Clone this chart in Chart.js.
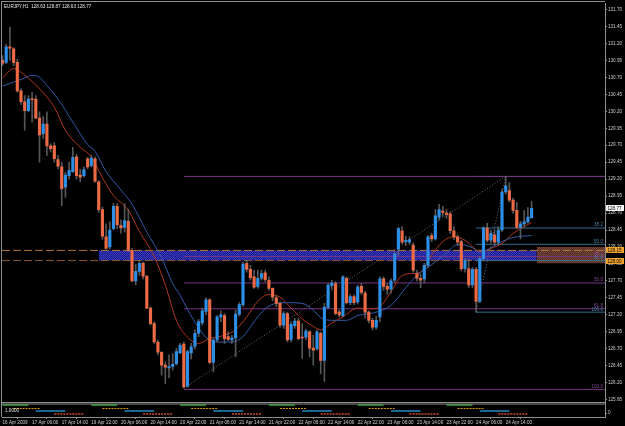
<!DOCTYPE html>
<html>
<head>
<meta charset="utf-8">
<title>EURJPY,H1</title>
<script src="https://cdn.jsdelivr.net/npm/chart.js@4.4.1/dist/chart.umd.min.js"></script>
<style>
  html, body { margin: 0; padding: 0; background: #000; }
  #wrap { width: 625px; height: 426px; }
</style>
</head>
<body>
<div id="wrap"><canvas id="chart" width="625" height="426"></canvas></div>
<script>
'use strict';

// hourly bars, 16 Apr 22:00 .. 24 Apr 21:00 (2009)
const timeTicks = [0, 8, 16, 24, 32, 40, 48, 56, 64, 72, 80, 88, 96, 104, 112, 120, 128, 136];
const timeLabels = ['16 Apr 2009', '17 Apr 06:00', '17 Apr 14:00', '19 Apr 22:00', '20 Apr 06:00',
  '20 Apr 14:00', '20 Apr 22:00', '21 Apr 06:00', '21 Apr 14:00', '21 Apr 22:00', '22 Apr 06:00',
  '22 Apr 14:00', '22 Apr 22:00', '23 Apr 06:00', '23 Apr 14:00', '23 Apr 22:00', '24 Apr 06:00',
  '24 Apr 14:00'];

const priceTicks = [131.70, 131.45, 131.20, 130.95, 130.70, 130.45, 130.20, 129.95, 129.70, 129.45,
  129.20, 128.95, 128.70, 128.45, 128.20, 127.95, 127.70, 127.45, 127.20, 126.95, 126.70, 126.45,
  126.20, 125.95];

const opens = [130.95, 130.92, 131.15, 131.12, 130.92, 130.50, 130.34, 130.21, 130.38, 130.38,
  130.10, 129.87, 130.01, 129.69, 129.69, 129.49, 129.38, 129.08, 129.25, 129.31,
  129.53, 129.26, 129.25, 129.50, 129.40, 129.50, 129.16, 128.75, 128.35, 128.20,
  128.47, 128.80, 128.52, 128.49, 128.58, 128.15, 127.70, 127.84, 127.96, 127.77,
  127.30, 127.07, 126.80, 126.65, 126.46, 126.42, 126.44, 126.48, 126.64, 126.77,
  126.15, 126.64, 126.74, 126.93, 127.08, 127.25, 127.42, 126.50, 126.83, 127.17,
  127.19, 126.88, 126.83, 126.86, 127.21, 127.35, 127.96, 127.87, 127.76, 127.62,
  127.74, 127.82, 127.71, 127.59, 127.45, 127.37, 127.05, 127.22, 126.84, 127.04,
  127.11, 126.87, 126.87, 126.95, 126.71, 126.70, 126.93, 126.53, 127.31, 127.63,
  127.66, 127.24, 127.19, 127.74, 127.38, 127.47, 127.39, 127.62, 127.52, 127.24,
  127.12, 127.02, 127.17, 127.73, 127.62, 127.58, 127.71, 128.17, 128.44, 128.28,
  128.27, 128.23, 127.81, 127.74, 127.73, 127.93, 128.37, 128.32, 128.64, 128.73,
  128.70, 128.69, 128.44, 128.35, 128.28, 127.88, 127.88, 127.64, 127.87, 127.40,
  128.03, 128.48, 128.30, 128.38, 128.27, 128.45, 129.01, 129.03, 128.89, 128.74,
  128.49, 128.54, 128.57, 128.63];
const highs = [131.02, 131.19, 131.44, 131.14, 130.97, 130.53, 130.43, 130.43, 130.48, 130.43,
  130.19, 130.12, 130.19, 129.72, 129.74, 129.55, 129.45, 129.30, 129.45, 129.67,
  129.57, 129.35, 129.38, 129.52, 129.55, 129.53, 129.18, 128.79, 128.54, 128.57,
  128.84, 128.84, 128.60, 128.84, 128.76, 128.18, 127.95, 128.00, 127.98, 127.78,
  127.32, 127.10, 126.83, 126.66, 126.51, 126.61, 126.63, 126.71, 126.78, 126.80,
  126.68, 126.78, 126.98, 127.13, 127.30, 127.45, 127.44, 126.85, 127.19, 127.26,
  127.22, 126.95, 126.90, 127.27, 127.38, 127.98, 128.00, 127.93, 127.86, 127.86,
  127.86, 127.86, 127.76, 127.60, 127.48, 127.39, 127.25, 127.24, 127.10, 127.15,
  127.15, 127.07, 126.99, 126.97, 126.90, 126.98, 126.95, 127.37, 127.66, 127.71,
  127.69, 127.27, 127.78, 127.76, 127.50, 127.50, 127.64, 127.66, 127.55, 127.26,
  127.15, 127.18, 127.76, 127.76, 127.66, 127.73, 128.13, 128.49, 128.50, 128.36,
  128.35, 128.26, 127.86, 127.80, 127.96, 128.37, 128.40, 128.75, 128.83, 128.80,
  128.75, 128.72, 128.50, 128.38, 128.30, 128.03, 128.02, 127.90, 127.90, 128.05,
  128.50, 128.55, 128.45, 128.45, 128.50, 129.05, 129.24, 129.15, 128.92, 128.86,
  128.58, 128.74, 128.78, 128.87];
const lows = [130.87, 130.90, 130.95, 130.87, 130.48, 130.30, 129.92, 130.19, 130.04, 130.09,
  129.45, 129.80, 129.55, 129.60, 129.45, 129.35, 128.81, 128.93, 129.20, 129.30,
  129.20, 129.16, 129.23, 129.35, 129.38, 129.15, 128.71, 128.31, 128.17, 128.17,
  128.45, 128.47, 128.40, 128.42, 128.13, 127.69, 127.64, 127.78, 127.73, 127.29,
  127.05, 126.78, 126.61, 126.31, 126.19, 126.27, 126.39, 126.46, 126.63, 126.12,
  126.13, 126.55, 126.70, 126.88, 127.05, 127.20, 126.48, 126.36, 126.80, 127.10,
  126.78, 126.82, 126.78, 126.58, 127.18, 127.32, 127.83, 127.71, 127.59, 127.59,
  127.71, 127.69, 127.56, 127.41, 127.32, 127.02, 127.00, 126.80, 126.80, 127.00,
  126.83, 126.56, 126.83, 126.58, 126.46, 126.68, 126.33, 126.22, 127.29, 127.58,
  127.20, 127.17, 127.17, 127.36, 127.35, 127.35, 127.36, 127.50, 127.15, 127.08,
  126.98, 126.99, 127.10, 127.56, 127.50, 127.52, 127.68, 128.08, 128.25, 128.22,
  128.24, 127.83, 127.70, 127.60, 127.68, 127.90, 128.28, 128.30, 128.60, 128.65,
  128.62, 128.40, 128.31, 128.22, 127.85, 127.83, 127.60, 127.60, 127.24, 127.38,
  128.00, 128.27, 128.26, 128.24, 128.24, 128.43, 128.98, 128.86, 128.70, 128.47,
  128.32, 128.50, 128.55, 128.63];
const closes = [130.91, 131.15, 131.13, 130.92, 130.50, 130.34, 130.21, 130.38, 130.37, 130.10,
  129.85, 130.01, 129.69, 129.65, 129.50, 129.39, 129.06, 129.26, 129.33, 129.52,
  129.25, 129.23, 129.34, 129.38, 129.51, 129.17, 128.75, 128.36, 128.18, 128.45,
  128.80, 128.53, 128.48, 128.59, 128.15, 127.70, 127.84, 127.96, 127.77, 127.30,
  127.07, 126.80, 126.65, 126.46, 126.43, 126.44, 126.47, 126.66, 126.75, 126.14,
  126.66, 126.73, 126.93, 127.10, 127.26, 127.42, 126.50, 126.83, 127.17, 127.20,
  126.85, 126.84, 126.86, 127.21, 127.35, 127.95, 127.87, 127.75, 127.61, 127.74,
  127.81, 127.72, 127.59, 127.46, 127.37, 127.05, 127.22, 126.83, 127.06, 127.11,
  126.85, 126.86, 126.96, 126.71, 126.68, 126.95, 126.53, 127.31, 127.64, 127.67,
  127.22, 127.20, 127.76, 127.38, 127.47, 127.38, 127.61, 127.53, 127.24, 127.12,
  127.02, 127.12, 127.73, 127.62, 127.58, 127.70, 128.10, 128.47, 128.27, 128.30,
  128.31, 127.86, 127.74, 127.71, 127.93, 128.35, 128.32, 128.66, 128.75, 128.71,
  128.68, 128.44, 128.35, 128.27, 127.88, 128.00, 127.64, 127.87, 127.40, 128.03,
  128.48, 128.30, 128.40, 128.27, 128.45, 129.01, 129.10, 128.89, 128.74, 128.49,
  128.54, 128.57, 128.64, 128.77];

// moving averages as [bar, price]
const fastMa = [[0, 130.69], [3, 130.83], [6, 130.73], [10, 130.53], [14, 130.26], [17, 129.92],
  [21, 129.67], [24, 129.53], [27, 129.22], [30, 128.96], [34, 128.74], [37, 128.43], [41, 128.06],
  [44, 127.64], [47, 127.12], [50, 126.87], [53, 126.78], [56, 126.85], [60, 126.90], [63, 126.98],
  [66, 127.17], [69, 127.40], [72, 127.50], [75, 127.46], [78, 127.30], [81, 127.14], [84, 127.03],
  [86, 126.98], [89, 127.08], [92, 127.17], [96, 127.30], [100, 127.29], [102, 127.32], [105, 127.54],
  [108, 127.78], [111, 127.81], [113, 127.83], [116, 128.08], [119, 128.28], [122, 128.35],
  [125, 128.30], [128, 128.16], [130, 128.13], [132, 128.18], [135, 128.25], [138, 128.40],
  [140, 128.47], [143, 128.56]];
const slowMa = [[0, 130.57], [3, 130.63], [6, 130.69], [8, 130.73], [10, 130.70], [12, 130.58],
  [15, 130.38], [19, 130.04], [23, 129.71], [25, 129.61], [28, 129.31], [32, 129.04], [35, 128.83],
  [39, 128.42], [43, 128.04], [46, 127.66], [48, 127.49], [50, 127.28], [53, 127.01], [55, 126.87],
  [58, 126.80], [62, 126.80], [65, 126.88], [68, 127.10], [71, 127.29], [74, 127.37], [77, 127.38],
  [81, 127.37], [84, 127.27], [86, 127.16], [89, 127.12], [93, 127.12], [96, 127.19], [101, 127.24],
  [105, 127.34], [109, 127.60], [112, 127.78], [116, 127.94], [120, 128.11], [123, 128.24],
  [127, 128.19], [129, 128.12], [132, 128.19], [135, 128.28], [138, 128.34], [143, 128.37]];

// fibonacci objects
const fibLabels = ['0.0', '38.2', '50.0', '61.8', '100.0'];
const purpleFibStart = 49;
const purpleFibLevels = [129.24, 128.06, 127.67, 127.29, 126.10];
const purpleFibSwing = [[49, 126.12], [136, 129.24]];
const tealFibStart = 128;
const tealFibLevels = [129.24, 128.48, 128.24, 128.00, 127.24];
const tealFibSwing = [[128, 127.24], [136, 129.24]];

// support zone and marked prices
const zoneTop = 128.15;
const zoneBottom = 128.00;
const zoneBars = [26, 144.4];
const shadeTop = 128.20;
const shadeBottom = 127.96;
const markedPrices = [128.15, 128.00];
const lastPrice = 128.77;

// session indicator (bar ranges per session)
const sessionGreen = [[0, 7], [24, 31], [48, 55], [72, 79], [96, 103], [120, 127]];
const sessionOrange = [[3, 10], [27, 34], [51, 58], [75, 82], [99, 106], [123, 130]];
const sessionCyan = [[9, 17], [33, 41], [57, 65], [81, 89], [105, 113], [129, 137]];
const sessionRed = [[14, 22], [38, 46], [62, 70], [86, 94], [110, 118], [134, 142]];
const sessionLevels = [10.2, 5.8, 2.6, -1.2];

const X_MIN = -0.14, X_MAX = 162.84;
const FONT = 'Liberation Sans';
const BULL = '#2d8fe6', BEAR = '#ec6a44';
const PURPLE = '#74357f', TEAL = '#336f8c';

const canvas = document.getElementById('chart');
const ctx = canvas.getContext('2d');

function dots(base, dot) {
  const c = document.createElement('canvas');
  c.width = 2; c.height = 2;
  const g = c.getContext('2d');
  g.fillStyle = base; g.fillRect(0, 0, 2, 2);
  g.fillStyle = dot; g.fillRect(0, 0, 1, 1); g.fillRect(1, 1, 1, 1);
  return ctx.createPattern(c, 'repeat');
}

function hline(y, from, to, color, extra) {
  return Object.assign({
    type: 'line', data: [{ x: from, y: y }, { x: to, y: y }],
    borderColor: color, borderWidth: 1, pointRadius: 0, order: 4
  }, extra || {});
}

function segments(list, level) {
  const pts = [];
  list.forEach(function (s) {
    pts.push({ x: s[0], y: level }, { x: s[1], y: level }, { x: s[1] + 0.5, y: null });
  });
  return pts;
}

const datasets = [];

// blue zone (two edges, filled between)
datasets.push(hline(zoneTop, zoneBars[0], zoneBars[1], 'rgba(0,0,0,0)', { order: 8 }));
datasets.push(hline(zoneBottom, zoneBars[0], zoneBars[1], 'rgba(0,0,0,0)',
  { order: 8, fill: '-1', backgroundColor: dots('#1d1d86', '#3838c4') }));
// brown shaded area at the right
datasets.push(hline(shadeTop, zoneBars[1], X_MAX, 'rgba(0,0,0,0)', { order: 8 }));
datasets.push(hline(shadeBottom, zoneBars[1], X_MAX, 'rgba(0,0,0,0)',
  { order: 8, fill: '-1', backgroundColor: dots('#4c2a22', '#7c4a3c') }));

// orange dashed price lines
datasets.push(hline(markedPrices[0], X_MIN, X_MAX, '#b27638', { borderDash: [8, 3], order: 5 }));
datasets.push(hline(markedPrices[1], X_MIN, X_MAX, '#8c5a30', { borderDash: [8, 3], order: 5 }));

// fibonacci levels and swings
purpleFibLevels.forEach(function (v) { datasets.push(hline(v, purpleFibStart, X_MAX, PURPLE)); });
tealFibLevels.forEach(function (v) { datasets.push(hline(v, tealFibStart, X_MAX, TEAL)); });
[purpleFibSwing, tealFibSwing].forEach(function (sw) {
  datasets.push({
    type: 'line', data: sw.map(function (p) { return { x: p[0], y: p[1] }; }),
    borderColor: '#6e6e6e', borderWidth: 1, borderDash: [1, 2], pointRadius: 0, order: 4
  });
});

// moving averages
datasets.push({
  type: 'line', data: slowMa.map(function (p) { return { x: p[0], y: p[1] }; }),
  borderColor: '#3458a8', borderWidth: 1, pointRadius: 0, cubicInterpolationMode: 'monotone', order: 3
});
datasets.push({
  type: 'line', data: fastMa.map(function (p) { return { x: p[0], y: p[1] }; }),
  borderColor: '#b0361c', borderWidth: 1, pointRadius: 0, cubicInterpolationMode: 'monotone', order: 3
});

// candles: wicks then bodies
datasets.push({
  type: 'bar', data: lows.map(function (l, i) { return { x: i, y: [l, highs[i]] }; }),
  backgroundColor: 'rgba(115,115,115,0.75)', barThickness: 1, grouped: false, order: 2
});
datasets.push({
  type: 'bar', data: opens.map(function (o, i) { return { x: i, y: [o, closes[i]] }; }),
  backgroundColor: opens.map(function (o, i) { return closes[i] >= o ? BULL : BEAR; }),
  barThickness: 2.5, minBarLength: 1, grouped: false, order: 1
});

// session indicator
[[sessionGreen, '#2fae2f', 1.5, []], [sessionOrange, '#d89a18', 1, [2, 1]],
 [sessionCyan, '#2288c0', 1.5, []], [sessionRed, '#9a3a22', 2, [2, 1]]].forEach(function (s, k) {
  datasets.push({
    type: 'line', yAxisID: 'y2', data: segments(s[0], sessionLevels[k]),
    borderColor: s[1], borderWidth: s[2], borderDash: s[3], pointRadius: 0, spanGaps: false, order: 6
  });
});

const decor = {
  id: 'decor',
  beforeDraw: function (chart) {
    const c = chart.ctx;
    c.save();
    c.fillStyle = '#000';
    c.fillRect(0, 0, chart.width, chart.height);
    c.restore();
  },
  afterDatasetsDraw: function (chart) {
    const c = chart.ctx, a = chart.chartArea, y = chart.scales.y;
    c.save();
    c.font = '4.6px ' + FONT;
    c.textAlign = 'right';
    c.textBaseline = 'bottom';
    for (let i = 1; i < fibLabels.length; i++) {
      c.fillStyle = '#8a4a98';
      c.fillText(fibLabels[i], a.right - 2, y.getPixelForValue(purpleFibLevels[i]) - 0.5);
      c.fillStyle = '#4a87a8';
      c.fillText(fibLabels[i], a.right - 2, y.getPixelForValue(tealFibLevels[i]) - 0.5);
    }
    c.restore();
  },
  afterDraw: function (chart) {
    const c = chart.ctx, a = chart.chartArea, y = chart.scales.y, y2 = chart.scales.y2;
    c.save();
    c.strokeStyle = '#8e8e8e';
    c.lineWidth = 1;
    c.beginPath();
    c.moveTo(1.5, 1); c.lineTo(1.5, a.bottom);
    c.moveTo(1, 1.5); c.lineTo(a.right, 1.5);
    c.moveTo(a.left, y.bottom + 0.5); c.lineTo(a.right, y.bottom + 0.5);
    c.moveTo(a.left, y.bottom + 2); c.lineTo(a.right, y.bottom + 2);
    c.stroke();

    c.font = '4.6px ' + FONT;
    c.textBaseline = 'middle';
    c.textAlign = 'left';
    c.fillStyle = '#e6e6e6';
    c.fillText('EURJPY,H1  ' + opens[opens.length - 1].toFixed(2) + ' ' + highs[highs.length - 1].toFixed(2) +
      ' ' + lows[lows.length - 1].toFixed(2) + ' ' + closes[closes.length - 1].toFixed(2), 4, 6.5);
    c.fillText('1.0000', 5, (y2.top + y2.bottom) / 2 + 1);

    const boxes = [[lastPrice, '#f4f4f4'], [markedPrices[0], '#f0a22e'], [markedPrices[1], '#f0a22e']];
    boxes.forEach(function (b) {
      const py = Math.round(y.getPixelForValue(b[0]));
      c.fillStyle = b[1];
      c.fillRect(a.right + 1, py - 3, 18, 6);
      c.fillStyle = '#000';
      c.fillText(b[0].toFixed(2), a.right + 2.5, py + 0.3);
    });
    c.restore();
  }
};

new Chart(canvas, {
  type: 'bar',
  data: { datasets: datasets },
  plugins: [decor],
  options: {
    responsive: false,
    animation: false,
    devicePixelRatio: 1,
    layout: { padding: { left: 2, top: 3, right: 0, bottom: 0 }, autoPadding: false },
    plugins: { legend: { display: false }, tooltip: { enabled: false }, title: { display: false } },
    scales: {
      x: {
        type: 'linear', min: X_MIN, max: X_MAX, offset: false,
        grid: { display: true, drawOnChartArea: false, tickLength: 2, color: '#8e8e8e' },
        border: { color: '#8e8e8e' },
        afterBuildTicks: function (s) { s.ticks = timeTicks.map(function (v) { return { value: v }; }); },
        afterFit: function (s) { s.height = 9; },
        ticks: {
          autoSkip: false, maxRotation: 0, minRotation: 0, align: 'start', padding: 1,
          color: '#cfcfcf', font: { family: FONT, size: 4.6 },
          callback: function (v, i) { return timeLabels[i]; }
        }
      },
      y: {
        position: 'right', stack: 'pane', stackWeight: 399,
        min: 125.916, max: 131.784,
        grid: { display: true, drawOnChartArea: false, tickLength: 2, color: '#8e8e8e' },
        border: { color: '#8e8e8e' },
        afterBuildTicks: function (s) { s.ticks = priceTicks.map(function (v) { return { value: v }; }); },
        afterFit: function (s) { s.width = 20; },
        ticks: {
          padding: 1, color: '#cfcfcf', font: { family: FONT, size: 4.6 },
          callback: function (v) { return v.toFixed(2); }
        }
      },
      y2: {
        position: 'right', stack: 'pane', stackWeight: 15,
        min: -5, max: 14,
        grid: { display: true, drawOnChartArea: false, tickLength: 2, color: '#8e8e8e' },
        border: { color: '#8e8e8e' },
        afterBuildTicks: function (s) { s.ticks = [{ value: 0 }, { value: 9 }]; },
        afterFit: function (s) { s.width = 20; },
        ticks: {
          padding: 1, color: '#cfcfcf', font: { family: FONT, size: 4.6 },
          callback: function (v) { return String(v); }
        }
      }
    }
  }
});
</script>
</body>
</html>
